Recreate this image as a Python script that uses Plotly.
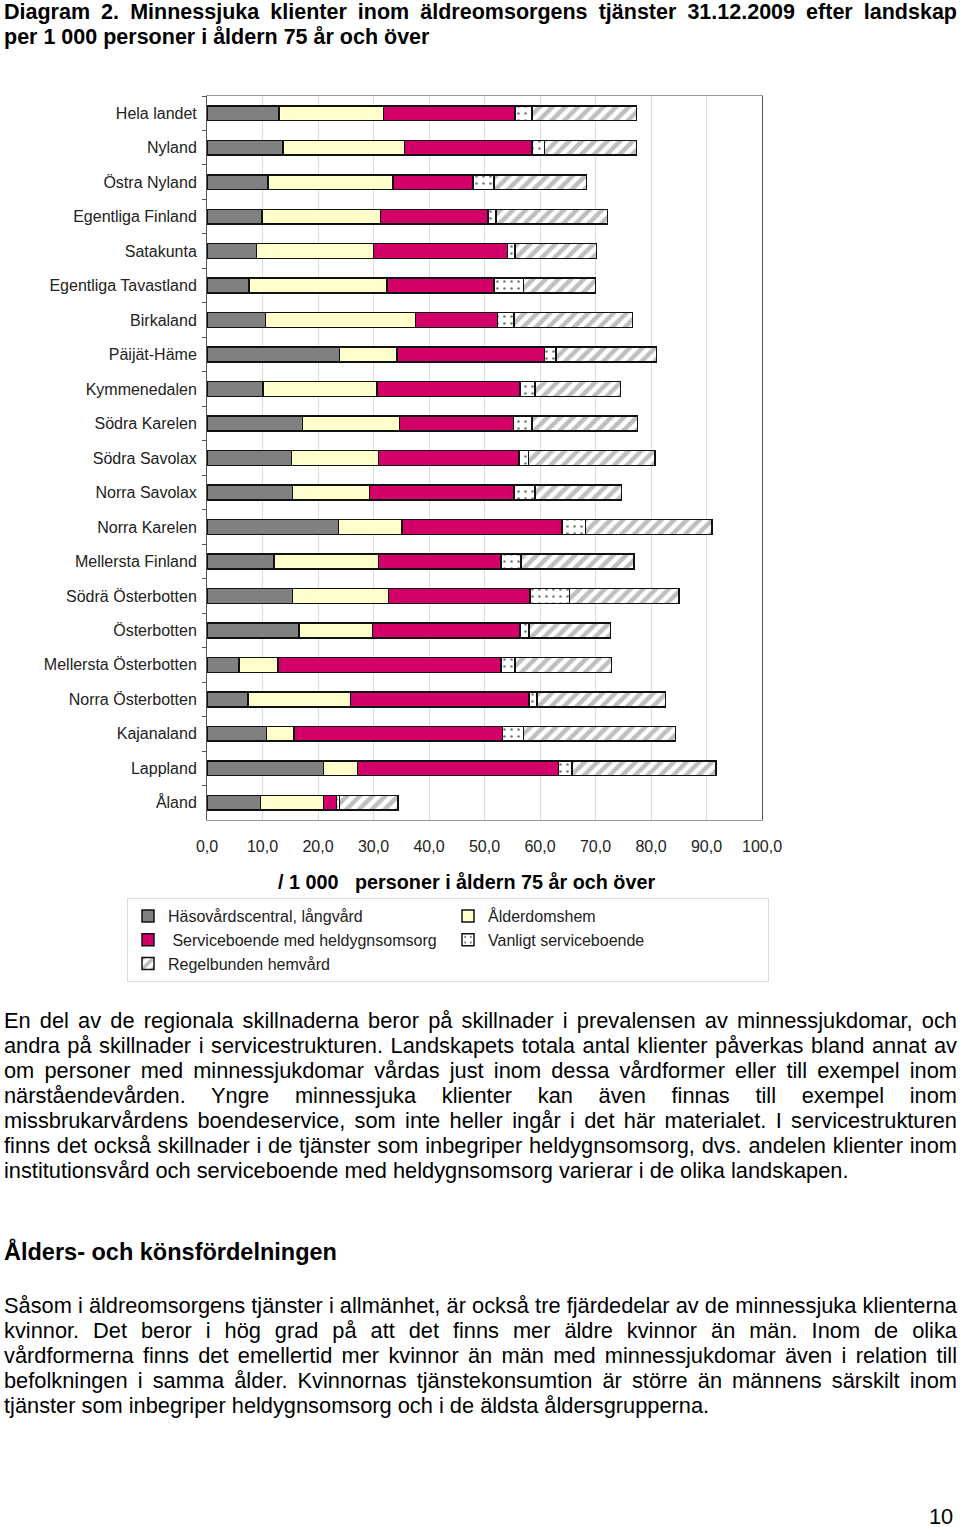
import json
import plotly.graph_objects as go

categories = ["Hela landet", "Nyland", "Östra Nyland", "Egentliga Finland", "Satakunta",
              "Egentliga Tavastland", "Birkaland", "Päijät-Häme", "Kymmenedalen", "Södra Karelen",
              "Södra Savolax", "Norra Savolax", "Norra Karelen", "Mellersta Finland",
              "Södrä Österbotten", "Österbotten", "Mellersta Österbotten", "Norra Österbotten",
              "Kajanaland", "Lappland", "Åland"]

halsovard = [13.0, 13.7, 11.0, 9.9, 8.9, 7.6, 10.5, 23.9, 10.1, 17.2, 15.2, 15.4, 23.7, 12.1,
             15.4, 16.6, 5.8, 7.4, 10.7, 21.0, 9.6]
alderdomshem = [18.8, 21.9, 22.5, 21.4, 21.1, 24.8, 27.1, 10.3, 20.5, 17.5, 15.7, 13.9, 11.4, 18.8,
                17.3, 13.2, 7.0, 18.5, 5.0, 6.1, 11.4]
serviceboende_hd = [23.7, 23.0, 14.4, 19.3, 24.1, 19.3, 14.7, 26.6, 25.8, 20.5, 25.3, 26.0, 28.9, 22.1,
                    25.5, 26.6, 40.2, 32.1, 37.5, 36.2, 2.3]
vanligt_sb = [3.1, 2.2, 3.8, 1.5, 1.4, 5.3, 3.0, 2.1, 2.7, 3.4, 1.7, 3.8, 4.2, 3.6,
              7.1, 1.6, 2.5, 1.5, 3.8, 2.5, 0.6]
hemvard = [18.8, 16.6, 16.7, 20.1, 14.7, 13.0, 21.4, 18.1, 15.4, 19.0, 22.8, 15.6, 22.8, 20.3,
           19.7, 14.7, 17.4, 23.1, 27.4, 25.9, 10.5]

x_ticks = [0, 10, 20, 30, 40, 50, 60, 70, 80, 90, 100]

FONT = "Liberation Sans, Arial, sans-serif"
W, H = 960, 1527
PL, PR, PT, PB = 207, 762, 96, 820


def px(xp):
    return (xp - PL) / (PR - PL)


def py(yp):
    return (PB - yp) / (PB - PT)


fig = go.Figure()
series = [
    ("Häsovårdscentral, långvård", halsovard, dict(color="#808080")),
    ("Ålderdomshem", alderdomshem, dict(color="#FFFFCC")),
    (" Serviceboende med heldygnsomsorg", serviceboende_hd, dict(color="#D4006A")),
    ("Vanligt serviceboende", vanligt_sb,
     dict(color="white", pattern=dict(shape=".", fgcolor="#000000", bgcolor="white", size=7, solidity=0.12))),
    ("Regelbunden hemvård", hemvard,
     dict(color="white", pattern=dict(shape="/", fgcolor="#808080", bgcolor="white", size=9, solidity=0.5))),
]
for name, vals, m in series:
    m = dict(m)
    m["line"] = dict(color="#111111", width=1.5)
    fig.add_trace(go.Bar(y=categories, x=vals, name=name, orientation="h", marker=m))

fig.update_layout(
    barmode="stack",
    bargap=0.57,
    width=W, height=H,
    margin=dict(l=PL, r=W - PR, t=PT, b=H - PB),
    plot_bgcolor="white", paper_bgcolor="white",
    separators=", ",
    font=dict(family=FONT, size=16, color="#222222"),
    showlegend=True,
    legend=dict(orientation="h", x=px(127), y=py(898), xanchor="left", yanchor="top",
                entrywidth=275, entrywidthmode="pixels",
                bordercolor="#dddddd", borderwidth=1, font=dict(size=16, family=FONT),
                traceorder="normal", itemwidth=30),
)
fig.update_xaxes(range=[0, 100], tickvals=x_ticks, tickformat=".1f", showgrid=True,
                 gridcolor="#dcdcdc", gridwidth=1, showline=True, linecolor="#999999",
                 mirror=True, zeroline=False, ticks="", tickfont=dict(size=16), ticklabelstandoff=12)
fig.update_yaxes(categoryorder="array", categoryarray=categories, autorange="reversed",
                 showline=True, linecolor="#555555", mirror=True, ticks="outside", ticklen=4,
                 tickson="boundaries", tickcolor="#555555", tickfont=dict(size=16), ticklabelstandoff=6)

ann = []
justify = {}
JUST_W = 953


def add_text(text, xp, yp, size, bold=False, xanchor="left", just=False, height=None):
    t = f"<b>{text}</b>" if bold else text
    if just:
        justify[str(len(ann))] = JUST_W
    a = dict(text=t, x=px(xp), y=py(yp), xref="paper", yref="paper", xanchor=xanchor,
             align=xanchor if xanchor in ("left", "right") else "center",
             yanchor="middle", showarrow=False, font=dict(size=size, family=FONT, color="#000000"))
    if height:
        a["height"] = height
    ann.append(a)


BODY = 21.8
add_text("Diagram 2. Minnessjuka klienter inom äldreomsorgens tjänster 31.12.2009 efter landskap", 2, 12, 21.5, True,
         just=True)
add_text("per 1 000 personer i åldern 75 år och över", 2, 37, 21.5, True)
add_text("/ 1 000\u00a0\u00a0\u00a0personer i åldern 75 år och över", 466, 882, 19.8, True, "center")

para1 = [
    "En del av de regionala skillnaderna beror på skillnader i prevalensen av minnessjukdomar, och",
    "andra på skillnader i servicestrukturen. Landskapets totala antal klienter påverkas bland annat av",
    "om personer med minnessjukdomar vårdas just inom dessa vårdformer eller till exempel inom",
    "närståendevården. Yngre minnessjuka klienter kan även finnas till exempel inom",
    "missbrukarvårdens boendeservice, som inte heller ingår i det här materialet. I servicestrukturen",
    "finns det också skillnader i de tjänster som inbegriper heldygnsomsorg, dvs. andelen klienter inom",
    "institutionsvård och serviceboende med heldygnsomsorg varierar i de olika landskapen.",
]
para2 = [
    "Såsom i äldreomsorgens tjänster i allmänhet, är också tre fjärdedelar av de minnessjuka klienterna",
    "kvinnor. Det beror i hög grad på att det finns mer äldre kvinnor än män. Inom de olika",
    "vårdformerna finns det emellertid mer kvinnor än män med minnessjukdomar även i relation till",
    "befolkningen i samma ålder. Kvinnornas tjänstekonsumtion är större än männens särskilt inom",
    "tjänster som inbegriper heldygnsomsorg och i de äldsta åldersgrupperna.",
]
for i, line in enumerate(para1):
    add_text(line, 2, 1020 + 25 * i, BODY, just=(i < len(para1) - 1))
add_text("Ålders- och könsfördelningen", 2, 1251, 23.5, True)
for i, line in enumerate(para2):
    add_text(line, 2, 1305 + 25 * i, BODY, just=(i < len(para2) - 1))
add_text("10", 955, 1516, BODY, False, "right", height=18)

fig.update_layout(annotations=ann)

post = (
    "document.body.style.margin='0';"
    "var gd=document.getElementById('{plot_id}');"
    "var targets=" + json.dumps(justify) + ";"
    "gd.querySelectorAll('g.annotation').forEach(function(g){"
    "var i=g.getAttribute('data-index'); if(targets[i]===undefined) return;"
    "var t=g.querySelector('text.annotation-text'); if(!t) return;"
    "var w=t.getComputedTextLength();"
    "var n=(t.textContent.match(/ /g)||[]).length;"
    "if(n>0){t.style.wordSpacing=((targets[i]-w)/n)+'px';}"
    "});"
)
fig.write_html("out.html", post_script=post, config={"displayModeBar": False})
